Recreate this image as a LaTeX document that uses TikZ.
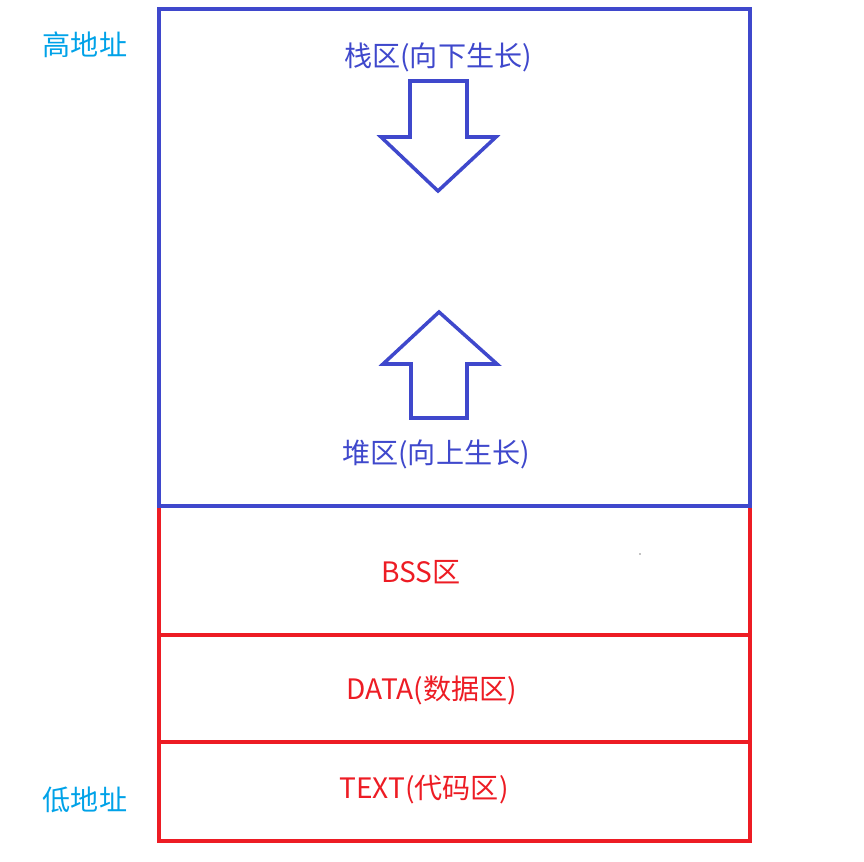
\documentclass[tikz,border=0pt]{standalone}
\usepackage{fontspec}
\newfontfamily\cjk{Noto Sans CJK SC}
\usetikzlibrary{positioning}
\definecolor{paintblue}{RGB}{63,72,204}
\definecolor{paintred}{RGB}{237,28,36}
\definecolor{paintcyan}{RGB}{0,162,232}

\begin{document}
\begin{tikzpicture}[x=0.03cm, y=-0.03cm,
  areatext/.style={font=\cjk\fontsize{24}{28}\selectfont, inner sep=0pt},
  boxline/.style={line width=3.4pt}]
\useasboundingbox (0,0) rectangle (864,861);

% The static segments
\draw [paintred][boxline] (159,506) rectangle (750,841);
\draw [paintred][boxline] (159,635) -- (750,635);
\draw [paintred][boxline] (159,742) -- (750,742);

% The stack and heap
\draw [paintblue][boxline] (159,9) rectangle (750,506);

% Growth arrows
\draw [paintblue][line width=3pt][line join=miter] (410,81) -- (467,81) -- (467,137) -- (496,137)
  -- (438,191) -- (381,137) -- (410,137) -- cycle;
\draw [paintblue][line width=3pt][line join=miter] (411,418) -- (467,418) -- (467,364) -- (497,364)
  -- (439,312) -- (383,364) -- (411,364) -- cycle;

% Labels
\node [areatext, text=paintblue] (stack) at (438,57) {栈区(向下生长)};
\node [areatext, text=paintblue] (heap) at (436,454) {堆区(向上生长)};
\node [areatext, text=paintred] (bss) at (421,572) {BSS区};
\node [areatext, text=paintred] (data) at (432,690) {DATA(数据区)};
\node [areatext, text=paintred] (text) at (424,790) {TEXT(代码区)};

\node [areatext, text=paintcyan] (high) at (85,45) {高地址};
\node [areatext, text=paintcyan] (low) at (85,800) {低地址};

\fill (640,554) circle (0.6);
\end{tikzpicture}
\end{document}
